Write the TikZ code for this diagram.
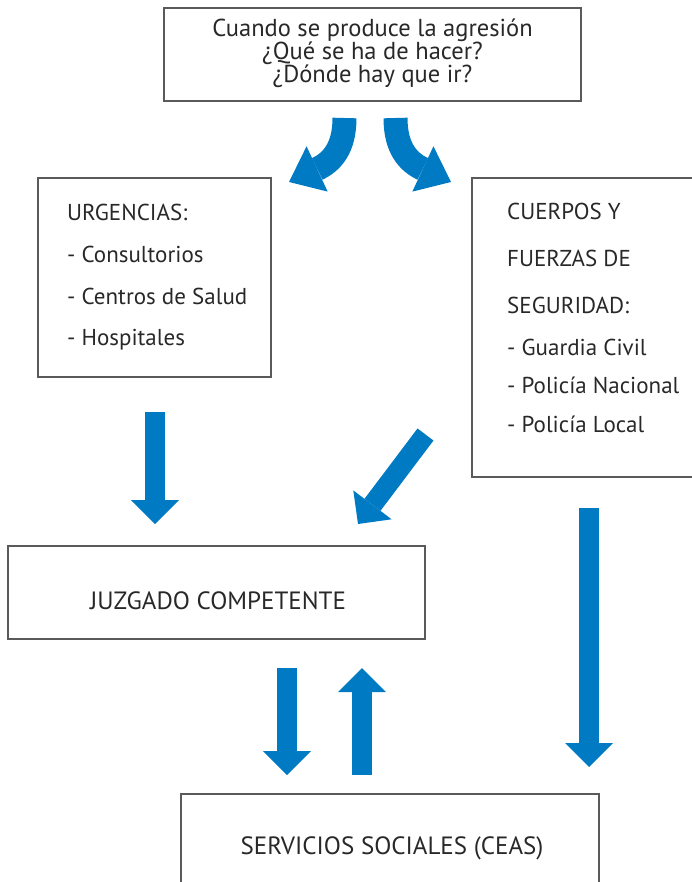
\documentclass[tikz,border=0pt]{standalone}
\usepackage{fontspec}
\setmainfont{PT Sans}
\usetikzlibrary{arrows.meta}
\definecolor{azul}{RGB}{0,122,194}
\definecolor{gris}{RGB}{90,90,90}
\definecolor{tinta}{RGB}{40,40,40}
\tikzset{
  caja/.style={draw=gris, line width=1.1pt, inner sep=0pt},
  texto/.style={inner sep=0pt, text=tinta, font=\fontsize{#1}{#1}\selectfont},
  texto/.default=23,
  flecha/.style={draw=azul, line width=20pt,
    -{Triangle[width=48pt,length=24pt,line width=0pt]}},
  flecha curva/.style={draw=azul, line width=24pt,
    -{Triangle[width=50pt,length=31pt,line width=0pt]}}
}
\begin{document}
\begin{tikzpicture}[x=1pt, y=-1pt]
  \useasboundingbox (0,0) rectangle (692,882);
  \clip (0,0) rectangle (692,882);

  % cajas
  \node [caja, minimum width=417pt, minimum height=93pt] (inicio) at (372.5,54.5) {};
  \node [caja, minimum width=233pt, minimum height=199pt] (urgencias) at (154.5,277.5) {};
  \node [caja, minimum width=228pt, minimum height=299pt] (cuerpos) at (586,327.5) {};
  \node [caja, minimum width=417pt, minimum height=93pt] (juzgado) at (216.5,592.5) {};
  \node [caja, minimum width=418pt, minimum height=110pt] (servicios) at (390,849) {};

  % textos
  \foreach \y/\linea in {36.5/Cuando se produce la agresión,
      59.5/¿Qué se ha de hacer?, 82.5/¿Dónde hay que ir?}
    \node [texto=24.5, anchor=base] (inicio-\y) at (372.5,\y) {\linea};

  \foreach \linea [count=\i] in {URGENCIAS:, - Consultorios,
      - Centros de Salud, - Hospitales}
    \node [texto, anchor=base west] (urgencias-\i) at (67,{221+41.5*(\i-1)}) {\linea};

  \foreach \y/\linea in {220/CUERPOS Y, 267/FUERZAS DE, 313/SEGURIDAD:,
      355/- Guardia Civil, 393/- Policía Nacional, 432/- Policía Local}
    \node [texto, anchor=base west] (cuerpos-\y) at (507,\y) {\linea};

  \node [texto=25, anchor=base] (juzgado-txt) at (218,609) {JUZGADO COMPETENTE};
  \node [texto=25, anchor=base] (servicios-txt) at (392,854) {SERVICIOS SOCIALES (CEAS)};

  % flechas
  \coordinate (izq-a) at (344.5,118);
  \coordinate (izq-b) at (289,182);
  \coordinate (der-a) at (395.5,118);
  \coordinate (der-b) at (451,182);
  \draw [flecha curva] (izq-a) .. controls (344.5,148) and (332,162) .. (izq-b);
  \draw [flecha curva] (der-a) .. controls (395.5,148) and (408,162) .. (der-b);

  \coordinate (urg-a) at (155,412);
  \coordinate (urg-b) at (155,524);
  \draw [flecha] (urg-a) -- (urg-b);

  \coordinate (diag-a) at (425.5,434.5);
  \coordinate (diag-b) at (358,524);
  \draw [flecha] (diag-a) -- (diag-b);

  \coordinate (largo-a) at (589,508);
  \coordinate (largo-b) at (589,767);
  \draw [flecha] (largo-a) -- (largo-b);

  \coordinate (baja-a) at (287,668);
  \coordinate (baja-b) at (287,775);
  \draw [flecha] (baja-a) -- (baja-b);

  \coordinate (sube-a) at (362,775);
  \coordinate (sube-b) at (362,668);
  \draw [flecha] (sube-a) -- (sube-b);

\end{tikzpicture}
\end{document}
